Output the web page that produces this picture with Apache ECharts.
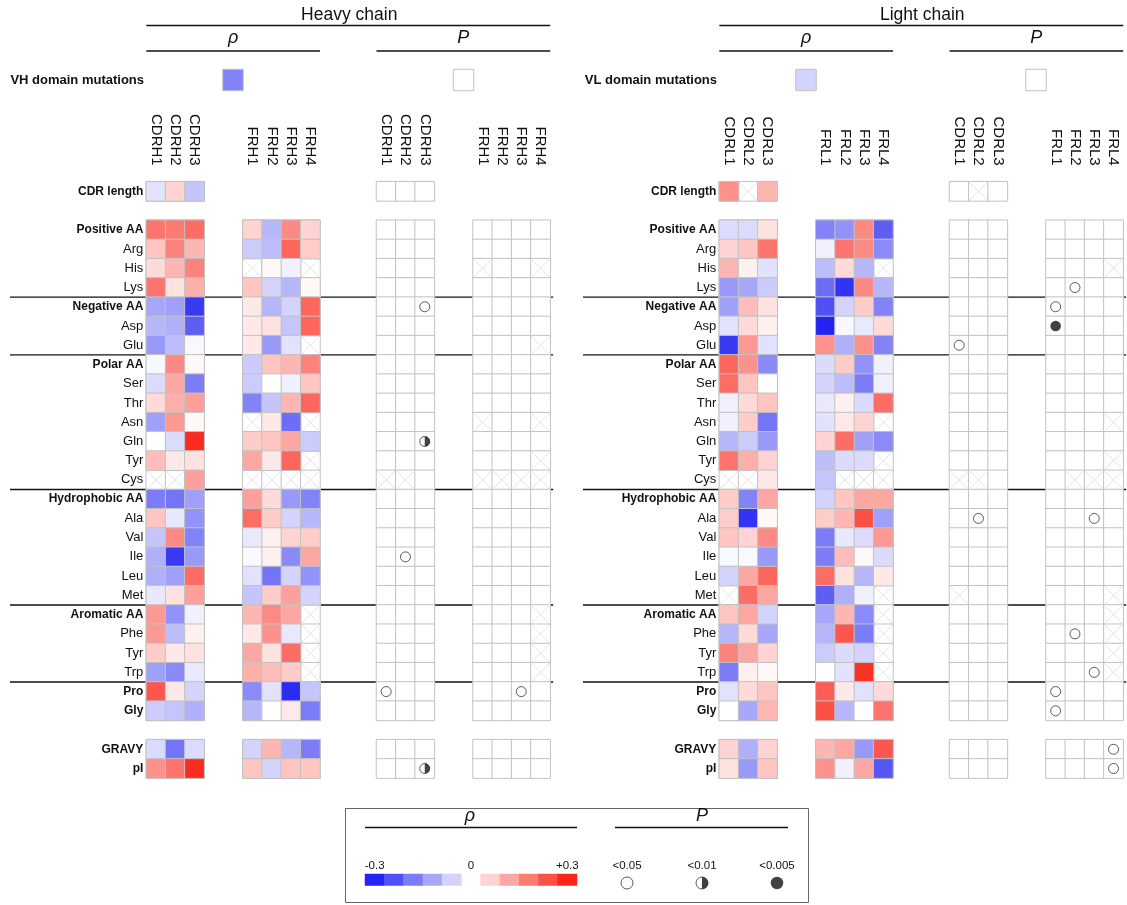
<!DOCTYPE html>
<html><head><meta charset="utf-8">
<script src="https://cdn.jsdelivr.net/npm/echarts@6/dist/echarts.min.js"></script>
<style>html,body{margin:0;padding:0;background:#fff}#c{width:1127px;height:905px}</style>
</head><body><div id="c"></div>
<script>
// ---------------- DATA ----------------
const aaRows = ['Positive AA','Arg','His','Lys','Negative AA','Asp','Glu','Polar AA','Ser','Thr','Asn','Gln','Tyr','Cys',
  'Hydrophobic AA','Ala','Val','Ile','Leu','Met','Aromatic AA','Phe','Tyr','Trp','Pro','Gly'];
const propRows = ['GRAVY','pI'];
const lengthRow = 'CDR length';
const boldRows = ['CDR length','Positive AA','Negative AA','Polar AA','Hydrophobic AA','Aromatic AA','Pro','Gly','GRAVY','pI'];
const groupStarts = ['Negative AA','Polar AA','Hydrophobic AA','Aromatic AA','Pro'];

const heavyCdrCols = ['CDRH1','CDRH2','CDRH3'];
const heavyFrCols = ['FRH1','FRH2','FRH3','FRH4'];
const lightCdrCols = ['CDRL1','CDRL2','CDRL3'];
const lightFrCols = ['FRL1','FRL2','FRL3','FRL4'];

const heavyMutationLabel = 'VH domain mutations';
const lightMutationLabel = 'VL domain mutations';
const heavyMutationRho = -0.17;
const lightMutationRho = -0.06;

const heavyCdrLengthRho = [-0.04, 0.06, -0.08];
const lightCdrLengthRho = [0.15, null, 0.10];

// rows follow aaRows; null = not available (crossed cell)
const heavyCdrRho = [
  [0.19, 0.18, 0.20], [0.08, 0.17, 0.10], [0.05, 0.10, 0.17], [0.19, 0.04, 0.11],
  [-0.12, -0.13, -0.27], [-0.10, -0.11, -0.22], [-0.14, -0.09, -0.01],
  [-0.01, 0.16, 0.01], [-0.05, 0.12, -0.18], [0.05, 0.11, 0.13], [-0.13, 0.14, 0.01],
  [0.00, -0.05, 0.29], [0.09, 0.03, 0.04], [null, null, 0.13],
  [-0.18, -0.19, -0.13], [0.08, -0.03, -0.15], [-0.08, 0.16, -0.17], [-0.11, -0.27, -0.14],
  [-0.11, -0.13, 0.20], [-0.03, 0.04, 0.13],
  [0.14, -0.15, -0.02], [0.14, -0.09, 0.02], [0.07, 0.03, 0.04], [-0.13, -0.16, -0.03],
  [0.23, 0.03, -0.06], [-0.07, -0.08, -0.11]
];
const heavyFrRho = [
  [0.06, -0.10, 0.16, 0.06], [-0.07, -0.09, 0.21, 0.07], [null, 0.01, -0.02, null], [0.08, -0.06, -0.10, 0.01],
  [0.03, -0.10, -0.06, 0.21], [0.03, 0.04, -0.08, 0.21], [0.03, -0.14, -0.04, null],
  [-0.07, 0.08, 0.10, 0.17], [-0.07, 0.00, -0.02, 0.08], [-0.17, -0.08, 0.10, 0.21], [null, 0.03, -0.20, null],
  [0.07, 0.08, 0.12, -0.07], [0.12, 0.03, 0.21, null], [null, null, null, null],
  [0.13, 0.05, -0.14, -0.17], [0.20, 0.07, -0.06, -0.10], [-0.03, 0.02, 0.06, 0.07], [-0.01, 0.02, -0.16, 0.12],
  [-0.04, -0.19, -0.06, -0.15], [-0.08, 0.07, 0.13, -0.06],
  [0.10, 0.16, 0.12, null], [0.03, 0.15, -0.03, null], [0.12, 0.04, 0.20, null], [0.11, 0.09, 0.07, null],
  [-0.16, -0.04, -0.29, -0.08], [-0.10, 0.00, 0.03, -0.18]
];
const heavyCdrPropRho = [[-0.05, -0.19, -0.05], [0.15, 0.19, 0.29]];
const heavyFrPropRho = [[-0.06, 0.10, -0.10, -0.18], [0.08, -0.06, 0.08, 0.08]];

const lightCdrRho = [
  [-0.05, -0.05, 0.04], [0.06, 0.08, 0.19], [0.10, 0.02, -0.04], [-0.14, -0.12, -0.07],
  [-0.13, 0.09, 0.04], [-0.04, 0.05, 0.02], [-0.27, 0.14, -0.04],
  [0.21, 0.15, -0.16], [0.20, 0.08, 0.00], [-0.02, 0.05, 0.08], [-0.02, 0.07, -0.19],
  [-0.10, -0.07, -0.14], [0.19, 0.11, 0.06], [null, null, 0.03],
  [0.07, -0.17, 0.12], [0.07, -0.28, 0.01], [0.08, 0.06, 0.16], [-0.01, -0.01, -0.14],
  [-0.06, 0.12, 0.21], [null, 0.20, 0.12],
  [0.08, 0.12, -0.06], [-0.10, 0.05, -0.12], [0.17, 0.12, 0.06], [-0.18, 0.02, 0.01],
  [-0.04, 0.05, 0.08], [0.00, -0.12, 0.10]
];
const lightFrRho = [
  [-0.17, -0.15, 0.16, -0.22], [-0.02, 0.19, 0.16, -0.16], [-0.09, 0.05, -0.10, null], [-0.20, -0.28, 0.16, -0.10],
  [-0.24, -0.06, 0.07, -0.17], [-0.30, -0.01, -0.03, 0.05], [0.15, -0.11, 0.15, -0.17],
  [-0.05, 0.07, -0.15, -0.02], [-0.06, -0.09, -0.18, -0.02], [-0.03, 0.02, -0.05, 0.20], [-0.04, 0.03, 0.06, null],
  [0.06, 0.20, -0.13, -0.16], [-0.09, -0.05, -0.05, null], [-0.08, null, null, null],
  [-0.06, 0.08, 0.12, 0.12], [0.07, 0.10, 0.24, -0.13], [-0.18, -0.03, -0.05, 0.14], [-0.18, 0.09, 0.01, -0.05],
  [0.20, 0.04, -0.10, 0.03], [-0.22, -0.11, -0.02, null],
  [-0.12, 0.10, -0.16, null], [-0.10, 0.23, -0.18, null], [-0.07, -0.05, -0.06, null], [0.00, -0.04, 0.28, null],
  [0.22, 0.03, -0.04, 0.05], [0.24, -0.10, 0.00, 0.19]
];
const lightCdrPropRho = [[0.06, -0.11, 0.06], [0.04, -0.14, 0.08]];
const lightFrPropRho = [[0.10, 0.12, -0.14, 0.23], [0.15, -0.02, 0.12, -0.23]];

// significance: [row, column, level]
const heavySig = [['Negative AA','CDRH3','<0.05'], ['Gln','CDRH3','<0.01'], ['Ile','CDRH2','<0.05'],
  ['Pro','CDRH1','<0.05'], ['Pro','FRH3','<0.05'], ['pI','CDRH3','<0.01']];
const lightSig = [['Glu','CDRL1','<0.05'], ['Ala','CDRL2','<0.05'], ['Lys','FRL2','<0.05'],
  ['Negative AA','FRL1','<0.05'], ['Asp','FRL1','<0.005'], ['Ala','FRL3','<0.05'], ['Phe','FRL2','<0.05'],
  ['Trp','FRL3','<0.05'], ['Pro','FRL1','<0.05'], ['Gly','FRL1','<0.05'], ['GRAVY','FRL4','<0.05'], ['pI','FRL4','<0.05']];

const legendRhoTicks = ['-0.3','','','','','0','','','','','+0.3'];
const legendRhoValues = [-0.3, -0.24, -0.18, -0.12, -0.06, null, 0.06, 0.12, 0.18, 0.24, 0.3];
const legendPLevels = ['<0.05','<0.01','<0.005'];

// ---------------- LAYOUT ----------------
const FONT = '"Liberation Sans", Arial, Helvetica, sans-serif';
const yRows = [lengthRow, ' ', ...aaRows, '  ', ...propRows];
const ROW_H = 19.24, COL_W = 19.3, TOP = 181.7;
const GH = ROW_H * yRows.length, GW = COL_W * 9;
const panelLefts = [146.3, 376.5, 719.3, 949.5];
const CELL_BORDER = '#c2c2c2';

function xCats(cdr, fr) { return [...cdr, '', '', ...fr]; }
function cells(lenVals, cdrRho, frRho, cdrProp, frProp) {
  const out = [];
  lenVals.forEach((v, i) => out.push([i, 0, v]));
  aaRows.forEach((_, r) => {
    cdrRho[r].forEach((v, i) => out.push([i, r + 2, v]));
    frRho[r].forEach((v, j) => out.push([j + 5, r + 2, v]));
  });
  propRows.forEach((_, r) => {
    cdrProp[r].forEach((v, i) => out.push([i, r + 29, v]));
    frProp[r].forEach((v, j) => out.push([j + 5, r + 29, v]));
  });
  return out;
}
function sigPoints(sig, cdr, fr, levels) {
  const cats = xCats(cdr, fr);
  return sig.filter(s => levels.includes(s[2])).map(s => [cats.indexOf(s[1]), yRows.indexOf(s[0])]);
}

const heavyCells = cells(heavyCdrLengthRho, heavyCdrRho, heavyFrRho, heavyCdrPropRho, heavyFrPropRho);
const lightCells = cells(lightCdrLengthRho, lightCdrRho, lightFrRho, lightCdrPropRho, lightFrPropRho);

const grids = [], xAxes = [], yAxes = [], series = [], rhoSeries = [];
const hidden = { axisLine: { show: false }, axisTick: { show: false }, splitLine: { show: false } };

function rowLabelFmt(v) { return boldRows.includes(v) ? '{b|' + v + '}' : '{n|' + v + '}'; }
const rich = { b: { fontFamily: FONT, fontWeight: 'bold', fontSize: 12, color: '#111' },
               n: { fontFamily: FONT, fontSize: 13, color: '#111' } };

// main grids
const panelDefs = [
  { cdr: heavyCdrCols, fr: heavyFrCols, data: heavyCells, type: 'rho' },
  { cdr: heavyCdrCols, fr: heavyFrCols, data: heavyCells, type: 'p', sig: heavySig },
  { cdr: lightCdrCols, fr: lightFrCols, data: lightCells, type: 'rho' },
  { cdr: lightCdrCols, fr: lightFrCols, data: lightCells, type: 'p', sig: lightSig }
];
const crossPath = 'path://M0,0L10,10M10,0L0,10';
const halfPath = 'path://M0,0A10,10 0 0 1 0,20Z';
panelDefs.forEach((p, gi) => {
  grids.push({ left: panelLefts[gi], top: TOP, width: GW, height: GH, outerBoundsMode: 'none' });
  xAxes.push(Object.assign({ gridIndex: gi, type: 'category', position: 'top', data: xCats(p.cdr, p.fr),
    axisLabel: { interval: 0, rotate: 90, margin: 16, fontSize: 15, fontFamily: FONT, color: '#111' } }, hidden));
  yAxes.push(Object.assign({ gridIndex: gi, type: 'category', inverse: true, data: yRows,
    axisLabel: { show: p.type === 'rho', interval: 0, margin: 3, formatter: rowLabelFmt, rich } }, hidden));
  // frame cells (all existing cells, white)
  series.push({ type: 'heatmap', xAxisIndex: gi, yAxisIndex: gi, silent: true, z: 1,
    data: p.data.map(d => [d[0], d[1], 0]),
    itemStyle: { color: '#fff', borderColor: CELL_BORDER, borderWidth: 1 } });
  if (p.type === 'rho') {
    rhoSeries.push(series.length);
    series.push({ type: 'heatmap', xAxisIndex: gi, yAxisIndex: gi, silent: true, z: 2,
      data: p.data.filter(d => d[2] !== null),
      itemStyle: { borderColor: CELL_BORDER, borderWidth: 1 } });
  }
  // crossed (NA) cells
  series.push({ type: 'scatter', xAxisIndex: gi, yAxisIndex: gi, silent: true, z: 3,
    symbol: crossPath, symbolSize: [COL_W - 1, ROW_H - 1],
    data: p.data.filter(d => d[2] === null).map(d => [d[0], d[1]]),
    itemStyle: { color: 'rgba(0,0,0,0)', borderColor: '#d4d4d4', borderWidth: 0.8 } });
  if (p.type === 'p') {
    series.push({ type: 'scatter', xAxisIndex: gi, yAxisIndex: gi, silent: true, z: 4, symbol: 'circle', symbolSize: 10,
      data: sigPoints(p.sig, p.cdr, p.fr, ['<0.05', '<0.01']),
      itemStyle: { color: '#fff', borderColor: '#333', borderWidth: 1 } });
    series.push({ type: 'scatter', xAxisIndex: gi, yAxisIndex: gi, silent: true, z: 5, symbol: halfPath,
      symbolSize: [5, 10], symbolOffset: [2.5, 0],
      data: sigPoints(p.sig, p.cdr, p.fr, ['<0.01']), itemStyle: { color: '#111' } });
    series.push({ type: 'scatter', xAxisIndex: gi, yAxisIndex: gi, silent: true, z: 5, symbol: 'circle', symbolSize: 10.5,
      data: sigPoints(p.sig, p.cdr, p.fr, ['<0.005']), itemStyle: { color: '#111' } });
  }
});

// mutation cells
const mutDefs = [
  { left: 223, label: heavyMutationLabel, value: heavyMutationRho, rho: true },
  { left: 453.5, label: heavyMutationLabel, value: null, rho: false },
  { left: 796, label: lightMutationLabel, value: lightMutationRho, rho: true },
  { left: 1026, label: lightMutationLabel, value: null, rho: false }
];
mutDefs.forEach((m) => {
  const gi = grids.length;
  grids.push({ left: m.left, top: 69.5, width: 20, height: 21, outerBoundsMode: 'none' });
  xAxes.push(Object.assign({ gridIndex: gi, type: 'category', data: [''], axisLabel: { show: false } }, hidden));
  yAxes.push(Object.assign({ gridIndex: gi, type: 'category', data: [m.label],
    axisLabel: { show: m.rho, margin: 79, fontFamily: FONT, fontWeight: 'bold', fontSize: 13, color: '#111' } }, hidden));
  if (m.rho) {
    rhoSeries.push(series.length);
    series.push({ type: 'heatmap', xAxisIndex: gi, yAxisIndex: gi, silent: true, data: [[0, 0, m.value]],
      itemStyle: { borderColor: CELL_BORDER, borderWidth: 1 } });
  } else {
    series.push({ type: 'heatmap', xAxisIndex: gi, yAxisIndex: gi, silent: true, data: [[0, 0, 0]],
      itemStyle: { color: '#fff', borderColor: CELL_BORDER, borderWidth: 1 } });
  }
});

// legend: rho colour scale
(function () {
  const gi = grids.length;
  grids.push({ left: 365, top: 874, width: 212, height: 11.5, outerBoundsMode: 'none' });
  xAxes.push(Object.assign({ gridIndex: gi, type: 'category', position: 'top', data: legendRhoTicks,
    axisLabel: { interval: 0, margin: 2, fontSize: 11.5, fontFamily: FONT, color: '#111' } }, hidden));
  yAxes.push(Object.assign({ gridIndex: gi, type: 'category', data: [''], axisLabel: { show: false } }, hidden));
  rhoSeries.push(series.length);
  series.push({ type: 'heatmap', xAxisIndex: gi, yAxisIndex: gi, silent: true,
    data: legendRhoValues.map((v, i) => [i, 0, v]).filter(d => d[2] !== null) });
})();
// legend: P symbols
(function () {
  const gi = grids.length;
  grids.push({ left: 589.5, top: 877, width: 225, height: 12, outerBoundsMode: 'none' });
  xAxes.push(Object.assign({ gridIndex: gi, type: 'category', position: 'top', data: legendPLevels,
    axisLabel: { interval: 0, margin: 5, fontSize: 11.5, fontFamily: FONT, color: '#111' } }, hidden));
  yAxes.push(Object.assign({ gridIndex: gi, type: 'category', data: [''], axisLabel: { show: false } }, hidden));
  series.push({ type: 'scatter', xAxisIndex: gi, yAxisIndex: gi, silent: true, symbol: 'circle', symbolSize: 12,
    data: [[0, 0], [1, 0]], itemStyle: { color: '#fff', borderColor: '#333', borderWidth: 1 } });
  series.push({ type: 'scatter', xAxisIndex: gi, yAxisIndex: gi, silent: true, symbol: halfPath, z: 5,
    symbolSize: [6, 12], symbolOffset: [3, 0], data: [[1, 0]], itemStyle: { color: '#111' } });
  series.push({ type: 'scatter', xAxisIndex: gi, yAxisIndex: gi, silent: true, symbol: 'circle', symbolSize: 12.5,
    data: [[2, 0]], itemStyle: { color: '#111' } });
})();

// decorations (headers, separators, legend frame)
const graphics = [];
function hline(x1, x2, y, w) { graphics.push({ type: 'line', silent: true, z: -1, shape: { x1, y1: y, x2, y2: y }, style: { stroke: '#111', lineWidth: w || 1.3 } }); }
function text(x, y, t, size, italic) {
  graphics.push({ type: 'text', silent: true, x, y, style: { text: t, fill: '#111', font: (italic ? 'italic ' : '') + size + 'px ' + FONT, textAlign: 'center', textVerticalAlign: 'middle' } });
}
[[0, 'Heavy chain'], [2, 'Light chain']].forEach(([pi, title]) => {
  const l1 = panelLefts[pi], r1 = l1 + GW, l2 = panelLefts[pi + 1], r2 = l2 + GW;
  text((l1 + r2) / 2 + 1, 15, title, 17.5);
  hline(l1, r2, 25.5);
  text((l1 + r1) / 2, 38, 'ρ', 18, true);
  text((l2 + r2) / 2, 38, 'P', 18, true);
  hline(l1, r1, 51);
  hline(l2, r2, 51);
  groupStarts.forEach(g => {
    const y = TOP + yRows.indexOf(g) * ROW_H;
    hline(pi === 0 ? 10 : 583, r2 + 3, y, 1.4);
  });
});
graphics.push({ type: 'rect', silent: true, shape: { x: 345.5, y: 808.5, width: 463, height: 94 },
  style: { fill: 'none', stroke: '#666', lineWidth: 1 } });
text(470, 816, 'ρ', 18, true);
hline(365, 577, 827.5);
text(702, 816, 'P', 18, true);
hline(615, 788, 827.5);

const chart = echarts.init(document.getElementById('c'), null, { renderer: 'canvas' });
chart.setOption({
  animation: false,
  backgroundColor: '#fff',
  textStyle: { fontFamily: FONT },
  grid: grids, xAxis: xAxes, yAxis: yAxes,
  visualMap: { type: 'continuous', show: false, min: -0.3, max: 0.3, dimension: 2, seriesIndex: rhoSeries,
    inRange: { color: ['#2424f2', '#ffffff', '#fa2418'] } },
  series,
  graphic: { elements: graphics }
});
</script></body></html>
